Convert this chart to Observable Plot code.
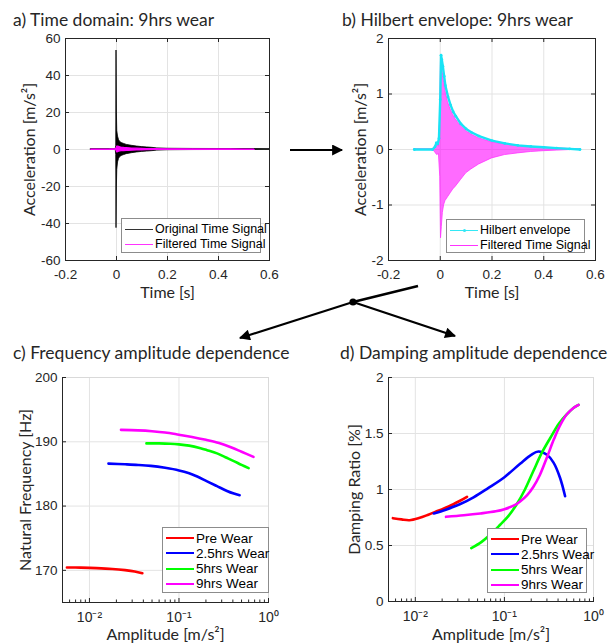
<!DOCTYPE html>
<html><head><meta charset="utf-8">
<script src="https://cdn.jsdelivr.net/npm/d3@7"></script>
<script src="https://cdn.jsdelivr.net/npm/@observablehq/plot@0.6"></script>
<style>
body{margin:0;background:#fff;}
#wrap{position:relative;width:610px;height:643px;overflow:hidden;background:#fff;}
.panel{position:absolute;}
.legend{position:absolute;background:#fff;border:1px solid #8c8c8c;box-sizing:border-box;font-family:"Liberation Sans",Arial,sans-serif;color:#000;}
.row{position:absolute;left:3px;height:14px;display:flex;align-items:center;white-space:nowrap;}
.sw{display:inline-block;margin-right:2px;position:relative;}
#overlay{position:absolute;left:0;top:0;pointer-events:none;}
</style>
</head><body>
<div id="wrap"></div>
<script>
// ---------- Panel a: time domain (envelopes of dense oscillating signals) ----------
const tOrig      = [-0.1, -0.003, -0.001, 0, 0.0015, 0.003, 0.006, 0.01, 0.015, 0.02, 0.03, 0.04, 0.06, 0.08, 0.1, 0.12, 0.14, 0.16, 0.2, 0.3, 0.45, 0.6];
const origUpper  = [0.2, 0.2, 2, 53.5, 20, 10, 7, 5, 4, 3.5, 3, 2.5, 2, 1.6, 1.3, 1.1, 0.9, 0.6, 0.4, 0.3, 0.25, 0.2];
const origLower  = [-0.2, -0.2, -3, -42.5, -20, -11, -7, -5, -4, -3.5, -3, -2.5, -2, -1.6, -1.3, -1.1, -0.9, -0.6, -0.4, -0.3, -0.25, -0.2];

// filtered signal (shared by panels a and b)
const tFilt      = [-0.1, -0.03, -0.02, -0.012, -0.005, 0, 0.003, 0.006, 0.01, 0.015, 0.02, 0.03, 0.04, 0.05, 0.06, 0.08, 0.1, 0.12, 0.15, 0.2, 0.25, 0.3, 0.35, 0.4, 0.45, 0.5, 0.54];
const filtUpper  = [0, 0, 0.05, 0.1, 0.05, 0.6, 1.62, 1.52, 1.38, 1.2, 1.05, 0.85, 0.72, 0.62, 0.54, 0.42, 0.33, 0.27, 0.2, 0.13, 0.09, 0.06, 0.045, 0.03, 0.02, 0.01, 0];
const filtLower  = [0, 0, -0.05, -0.1, -0.08, -0.5, -1.6, -1.4, -1.14, -1.0, -0.93, -0.86, -0.79, -0.72, -0.67, -0.55, -0.43, -0.36, -0.27, -0.16, -0.1, -0.07, -0.045, -0.03, -0.02, -0.01, 0];

// ---------- Panel b: Hilbert envelope ----------
const tHilb      = [-0.1, -0.03, -0.02, -0.015, -0.01, -0.005, 0, 0.003, 0.006, 0.01, 0.015, 0.02, 0.03, 0.04, 0.05, 0.06, 0.08, 0.1, 0.12, 0.15, 0.2, 0.25, 0.3, 0.35, 0.4, 0.45, 0.5, 0.54];
const hilbEnv    = [0, 0, 0.05, 0.12, 0.1, 0.2, 0.9, 1.7, 1.62, 1.5, 1.32, 1.15, 0.95, 0.8, 0.68, 0.6, 0.46, 0.37, 0.31, 0.24, 0.16, 0.11, 0.075, 0.055, 0.04, 0.025, 0.012, 0];

// ---------- Panels c & d: amplitude dependence ----------
const seriesNames  = ["Pre Wear", "2.5hrs Wear", "5hrs Wear", "9hrs Wear"];
const seriesColors = ["#ff0000", "#0000ff", "#00ff00", "#ff00ff"];

const freqAmpPre  = [0.0056, 0.008, 0.012, 0.018, 0.025, 0.032, 0.039];
const freqPre     = [170.45, 170.42, 170.35, 170.22, 170.03, 169.82, 169.55];
const freqAmp25   = [0.0163, 0.025, 0.035, 0.0484, 0.07, 0.1, 0.13, 0.16, 0.206, 0.266, 0.344, 0.41, 0.476];
const freq25      = [186.6, 186.5, 186.4, 186.25, 185.95, 185.55, 185.1, 184.6, 183.85, 183.1, 182.35, 181.95, 181.7];
const freqAmp5    = [0.0433, 0.06, 0.08, 0.1, 0.13, 0.174, 0.206, 0.266, 0.33, 0.41, 0.5, 0.6];
const freq5       = [189.75, 189.75, 189.7, 189.6, 189.4, 189.0, 188.7, 188.2, 187.6, 187.0, 186.4, 185.9];
const freqAmp9    = [0.0225, 0.035, 0.05, 0.07, 0.1, 0.14, 0.2, 0.28, 0.38, 0.5, 0.68];
const freq9       = [191.85, 191.78, 191.65, 191.45, 191.1, 190.75, 190.3, 189.8, 189.15, 188.45, 187.65];

const dampAmpPre  = [0.0056, 0.007, 0.0086, 0.011, 0.014, 0.018, 0.024, 0.031, 0.038];
const dampPre     = [0.744, 0.733, 0.726, 0.745, 0.775, 0.81, 0.85, 0.895, 0.935];
const dampAmp25   = [0.0161, 0.022, 0.032, 0.045, 0.065, 0.1, 0.15, 0.2, 0.241, 0.3, 0.356, 0.42, 0.48];
const damp25      = [0.786, 0.82, 0.87, 0.93, 1.01, 1.11, 1.23, 1.31, 1.339, 1.31, 1.24, 1.107, 0.94];
const dampAmp5    = [0.0425, 0.055, 0.07, 0.0896, 0.11, 0.138, 0.17, 0.212, 0.26, 0.327, 0.41, 0.5, 0.6, 0.68];
const damp5       = [0.476, 0.53, 0.6, 0.685, 0.76, 0.87, 1.0, 1.167, 1.32, 1.46, 1.59, 1.67, 1.73, 1.756];
const dampAmp9    = [0.0221, 0.035, 0.0536, 0.08, 0.1, 0.13, 0.15, 0.18, 0.21, 0.25, 0.3, 0.36, 0.42, 0.5, 0.6, 0.68];
const damp9       = [0.756, 0.77, 0.786, 0.805, 0.824, 0.86, 0.893, 0.95, 1.02, 1.13, 1.286, 1.45, 1.57, 1.67, 1.73, 1.756];

// tick labels
const timeTicks   = [-0.2, 0, 0.2, 0.4, 0.6];
const accTicksA   = [-60, -40, -20, 0, 20, 40, 60];
const accTicksB   = [-2, -1, 0, 1, 2];
const freqTicks   = [170, 180, 190, 200];
const dampTicks   = [0, 0.5, 1, 1.5, 2];
const logTicks    = [0.01, 0.1, 1];
const logTickText = ["10\u207B\u00B2", "10\u207B\u00B9", "10\u2070"];
const minorLog    = [0.006,0.007,0.008,0.009,0.02,0.03,0.04,0.05,0.06,0.07,0.08,0.09,0.2,0.3,0.4,0.5,0.6,0.7,0.8,0.9];

// ---------- helpers ----------
const TICKFONT = "Liberation Sans, Arial, sans-serif";
const LABFONT = "Lato, 'Open Sans', sans-serif";
const DARK = "#262626", GRID = "#e3e3e3";
const wrap = document.getElementById("wrap");
const plainFmt = d => String(d);

function place(node, left, top){ node.classList.add("panel"); node.style.left = left+"px"; node.style.top = top+"px"; wrap.appendChild(node); }

function gridMarks(o){
  return [
    Plot.gridX(o.xGrid, {stroke: GRID, strokeOpacity: 1}),
    Plot.gridY(o.yTicks, {stroke: GRID, strokeOpacity: 1})
  ];
}

function axesMarks(o){
  const pw = o.width - o.ml - o.mr, ph = o.height - o.mt - o.mb;
  const ms = [];
  ms.push(Plot.frame({stroke: o.darkBox ? DARK : "#d9d9d9", strokeWidth: 1}));
  ms.push(Plot.frame({anchor: "left", stroke: DARK}));
  ms.push(Plot.frame({anchor: "bottom", stroke: DARK}));
  ms.push(Plot.axisX(o.xTicks, {tickSize: 0, tickPadding: o.xPad, fontSize: o.xFs || 13.5, fontFamily: TICKFONT, fill: DARK, label: null, tickFormat: o.xFmt}));
  ms.push(Plot.axisY(o.yTicks, {tickSize: 0, tickPadding: 5, fontSize: 13.5, fontFamily: TICKFONT, fill: DARK, label: null, tickFormat: plainFmt}));
  ms.push(Plot.tickX(o.xTicks, {x: d => d, insetTop: ph - 4, stroke: DARK}));
  if (o.minor) ms.push(Plot.tickX(o.minor, {x: d => d, insetTop: ph - 2.5, stroke: DARK}));
  ms.push(Plot.tickY(o.yTicks, {y: d => d, insetRight: pw - 4, stroke: DARK}));
  if (o.darkBox) {
    ms.push(Plot.tickX(o.xTicks, {x: d => d, insetBottom: ph - 4, stroke: DARK}));
    ms.push(Plot.tickY(o.yTicks, {y: d => d, insetLeft: pw - 4, stroke: DARK}));
  }
  ms.push(Plot.text([o.xLabel], {frameAnchor: "bottom", lineAnchor: "middle", textAnchor: "middle", dy: o.xLabDy, fontSize: 16, fontFamily: LABFONT, fill: DARK}));
  ms.push(Plot.text([o.yLabel], {frameAnchor: "left", lineAnchor: "middle", textAnchor: "middle", rotate: -90, dx: o.yLabDx, fontSize: 16, fontFamily: LABFONT, fill: DARK}));
  return ms;
}

function makePanel(o, dataMarks){
  return Plot.plot({
    width: o.width, height: o.height,
    marginLeft: o.ml, marginRight: o.mr, marginTop: o.mt, marginBottom: o.mb,
    style: {background: "transparent", overflow: "visible"},
    x: o.x, y: o.y, color: o.color,
    marks: [...gridMarks(o), ...dataMarks, ...axesMarks(o)]
  });
}

// ---------- Panel a ----------
const origData = tOrig.map((t,i) => ({t, hi: origUpper[i], lo: origLower[i]}));
const filtData = tFilt.map((t,i) => ({t, hi: filtUpper[i], lo: filtLower[i]}));
const hilbData = tHilb.map((t,i) => ({t, v: hilbEnv[i]}));

const panelA = makePanel({
  width: 290, height: 275, ml: 65, mr: 21, mt: 8, mb: 45,
  x: {domain: [-0.2, 0.6]}, y: {domain: [-60, 60]},
  xTicks: timeTicks, xGrid: timeTicks, yTicks: accTicksA, xPad: 9, darkBox: true, xFmt: plainFmt,
  xLabel: "Time [s]", yLabel: "Acceleration [m/s\u00B2]", xLabDy: 32.5, yLabDx: -35.5
}, [
  Plot.areaY(origData, {x: "t", y1: "lo", y2: "hi", fill: "#000", stroke: "#000", strokeWidth: 0.8, curve: "linear"}),
  Plot.areaY(filtData, {x: "t", y1: "lo", y2: "hi", fill: "#ff00ff", stroke: "#ff00ff", strokeWidth: 1.2}),
  Plot.lineY(filtData, {x: "t", y: 0, stroke: "#ff00ff", strokeWidth: 1.2})
]);
place(panelA, 0, 30);

// ---------- Panel b ----------
const panelB = makePanel({
  width: 310, height: 275, ml: 88, mr: 15, mt: 8, mb: 45,
  x: {domain: [-0.2, 0.6]}, y: {domain: [-2, 2]},
  xTicks: timeTicks, xGrid: timeTicks, yTicks: accTicksB, xPad: 9, darkBox: true, xFmt: plainFmt,
  xLabel: "Time [s]", yLabel: "Acceleration [m/s\u00B2]", xLabDy: 32.5, yLabDx: -27.5
}, [
  Plot.areaY(filtData, {x: "t", y1: "lo", y2: "hi", fill: "#ff00ff", fillOpacity: 0.58, stroke: "#ff33ff", strokeWidth: 0.8}),
  Plot.lineY(hilbData, {x: "t", y: "v", stroke: "#19e3f5", strokeWidth: 2.4}),
  Plot.dot(hilbData, {x: "t", y: "v", r: 1.4, fill: "#19e3f5"})
]);
place(panelB, 300, 30);

// ---------- Panels c & d ----------
function seriesRows(amps, vals){
  return amps.flatMap((a, k) => a.map((x, i) => ({name: seriesNames[k], x, y: vals[k][i]})));
}
const freqRows = seriesRows([freqAmpPre, freqAmp25, freqAmp5, freqAmp9], [freqPre, freq25, freq5, freq9]);
const dampRows = seriesRows([dampAmpPre, dampAmp25, dampAmp5, dampAmp9], [dampPre, damp25, damp5, damp9]);
const colorScale = {domain: seriesNames, range: seriesColors};
const logFmt = d => logTickText[logTicks.indexOf(d)];

const panelC = makePanel({
  width: 290, height: 288, ml: 62, mr: 22, mt: 22, mb: 41,
  x: {type: "log", domain: [0.005, 1]}, y: {domain: [165, 200]}, color: colorScale,
  xTicks: logTicks, xGrid: logTicks, yTicks: freqTicks, minor: minorLog, xPad: 9.5, xFs: 14, darkBox: false, xFmt: logFmt,
  xLabel: "Amplitude [m/s\u00B2]", yLabel: "Natural Frequency [Hz]", xLabDy: 32.5, yLabDx: -36.5
}, [
  Plot.line(freqRows, {x: "x", y: "y", z: "name", stroke: "name", strokeWidth: 2.6, curve: "catmull-rom"})
]);
place(panelC, 0, 355);

const panelD = makePanel({
  width: 310, height: 288, ml: 88, mr: 17, mt: 22, mb: 42,
  x: {type: "log", domain: [0.005, 1]}, y: {domain: [0, 2]}, color: colorScale,
  xTicks: logTicks, xGrid: logTicks, yTicks: dampTicks, minor: minorLog, xPad: 9.5, xFs: 14, darkBox: false, xFmt: logFmt,
  xLabel: "Amplitude [m/s\u00B2]", yLabel: "Damping Ratio [%]", xLabDy: 33, yLabDx: -33.5
}, [
  Plot.line(dampRows, {x: "x", y: "y", z: "name", stroke: "name", strokeWidth: 2.6, curve: "catmull-rom"})
]);
place(panelD, 300, 355);

// ---------- Legends ----------
function legend(left, top, w, h, items, opts){
  const box = document.createElement("div");
  box.className = "legend";
  Object.assign(box.style, {left: left+"px", top: top+"px", width: w+"px", height: h+"px", fontSize: opts.fs+"px"});
  items.forEach((it, i) => {
    const row = document.createElement("div");
    row.className = "row";
    row.style.top = (opts.y0 + i*opts.dy - 7) + "px";
    const sw = document.createElement("span");
    sw.className = "sw";
    Object.assign(sw.style, {width: opts.sw+"px", height: "0px", borderTop: `${opts.lw}px solid ${it.color}`});
    if (it.dot) {
      const d = document.createElement("span");
      Object.assign(d.style, {position:"absolute", left:(opts.sw/2-1.5)+"px", top:(-opts.lw/2-1.5)+"px", width:"3px", height:"3px", borderRadius:"50%", background: it.color});
      sw.appendChild(d);
    }
    const tx = document.createElement("span");
    tx.textContent = it.name;
    row.appendChild(sw); row.appendChild(tx);
    box.appendChild(row);
  });
  wrap.appendChild(box);
}
legend(121, 218, 140, 35, [{name: "Original Time Signal", color: "#333"}, {name: "Filtered Time Signal", color: "#ff33ff"}], {fs: 12.5, y0: 10, dy: 15, sw: 28, lw: 1});
legend(446, 219, 139, 34, [{name: "Hilbert envelope", color: "#33e8f5", dot: true}, {name: "Filtered Time Signal", color: "#ff33ff"}], {fs: 12.5, y0: 10, dy: 15, sw: 28, lw: 1});
legend(162, 527, 107, 66, seriesNames.map((n,i) => ({name: n, color: seriesColors[i]})), {fs: 13.5, y0: 10, dy: 15.3, sw: 28, lw: 2.6});
legend(487, 528, 100, 65, seriesNames.map((n,i) => ({name: n, color: seriesColors[i]})), {fs: 13.5, y0: 10, dy: 15.3, sw: 28, lw: 2.6});

// ---------- Overlay: titles and annotation arrows ----------
const ov = d3.select(wrap).append("svg").attr("id", "overlay").attr("width", 610).attr("height", 643);
ov.append("defs").append("marker").attr("id", "ah").attr("viewBox", "0 0 10 10").attr("refX", 9).attr("refY", 5)
  .attr("markerWidth", 6.5).attr("markerHeight", 5).attr("markerUnits", "strokeWidth").attr("orient", "auto")
  .append("path").attr("d", "M0,0 L10,5 L0,10 Z").attr("fill", "#000");
const titles = [
  {text: "a) Time domain: 9hrs wear", x: 13, y: 26},
  {text: "b) Hilbert envelope: 9hrs wear", x: 342, y: 26},
  {text: "c) Frequency amplitude dependence", x: 13, y: 359},
  {text: "d) Damping amplitude dependence", x: 340, y: 359}
];
ov.selectAll("text.title").data(titles).join("text").attr("class", "title")
  .attr("x", d => d.x).attr("y", d => d.y).text(d => d.text)
  .attr("font-family", LABFONT).attr("font-size", 17.5).attr("fill", DARK);
const arrows = [
  {x1: 290, y1: 150, x2: 342, y2: 150},
  {x1: 353, y1: 302, x2: 240, y2: 338},
  {x1: 353, y1: 302, x2: 455, y2: 336}
];
ov.selectAll("line.arrow").data(arrows).join("line").attr("class", "arrow")
  .attr("x1", d => d.x1).attr("y1", d => d.y1).attr("x2", d => d.x2).attr("y2", d => d.y2)
  .attr("stroke", "#000").attr("stroke-width", 2.2).attr("marker-end", "url(#ah)");
ov.append("line").attr("x1", 353).attr("y1", 302).attr("x2", 418).attr("y2", 286).attr("stroke", "#000").attr("stroke-width", 2.6);
ov.append("circle").attr("cx", 353).attr("cy", 302).attr("r", 3.6).attr("fill", "#000");
</script>
</body></html>
